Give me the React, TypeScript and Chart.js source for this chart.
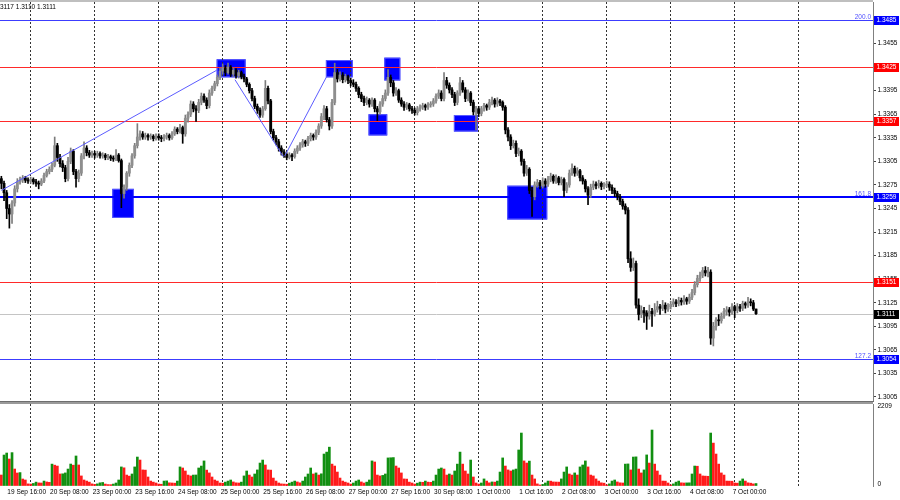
import React, { useEffect, useRef } from 'react';
import { Chart, registerables } from 'chart.js';

Chart.register(...registerables);

// ---------------- DATA (GBPUSD H1, 19 Sep 13:00 .. 7 Oct 08:00) ----------------
const opens = [
  1.3283, 1.3277, 1.3265, 1.3245, 1.3238, 1.3252, 1.3270, 1.3279, 1.3281, 1.3284, 1.3281,
  1.3280, 1.3282, 1.3279, 1.3277, 1.3276, 1.3280, 1.3287, 1.3292, 1.3295, 1.3300, 1.3325, 1.3310, 1.3302, 1.3297, 1.3283, 1.3305, 1.3318, 1.3292, 1.3283, 1.3290, 1.3312, 1.3322, 1.3316, 1.3313,
  1.3315, 1.3313, 1.3315, 1.3312, 1.3313, 1.3310, 1.3311, 1.3309, 1.3308, 1.3313, 1.3306, 1.3264, 1.3272, 1.3290, 1.3300, 1.3312, 1.3325, 1.3336, 1.3340, 1.3336, 1.3338, 1.3336, 1.3337, 1.3334,
  1.3337, 1.3335, 1.3334, 1.3336, 1.3338, 1.3335, 1.3340, 1.3346, 1.3343, 1.3348, 1.3340, 1.3360, 1.3365, 1.3378, 1.3372, 1.3370, 1.3380, 1.3388, 1.3383, 1.3376, 1.3392, 1.3398, 1.3404, 1.3412,
  1.3420, 1.3424, 1.3418, 1.3425, 1.3416, 1.3421, 1.3414, 1.3418, 1.3413, 1.3410, 1.3403, 1.3395, 1.3385, 1.3375, 1.3370, 1.3364, 1.3372, 1.3398, 1.3382, 1.3343, 1.3335, 1.3330, 1.3322, 1.3317,
  1.3314, 1.3310, 1.3313, 1.3311, 1.3318, 1.3322, 1.3326, 1.3330, 1.3328, 1.3334, 1.3338, 1.3336, 1.3342, 1.3350, 1.3362, 1.3372, 1.3358, 1.3350, 1.3380, 1.3418, 1.3410, 1.3415, 1.3409, 1.3413,
  1.3408, 1.3405, 1.3403, 1.3398, 1.3390, 1.3385, 1.3380, 1.3383, 1.3378, 1.3383, 1.3372, 1.3368, 1.3378, 1.3385, 1.3392, 1.3412, 1.3405, 1.3392, 1.3395, 1.3383, 1.3378, 1.3374, 1.3377, 1.3372,
  1.3370, 1.3367, 1.3372, 1.3374, 1.3376, 1.3374, 1.3377, 1.3378, 1.3382, 1.3388, 1.3392, 1.3385, 1.3408, 1.3402, 1.3396, 1.3390, 1.3380, 1.3392, 1.3405, 1.3396, 1.3385, 1.3392, 1.3380, 1.3368,
  1.3372, 1.3366, 1.3372, 1.3376, 1.3374, 1.3380, 1.3383, 1.3378, 1.3382, 1.3380, 1.3374, 1.3345, 1.3336, 1.3325, 1.3328, 1.3315, 1.3318, 1.3305, 1.3290, 1.3295, 1.3268, 1.3260, 1.3275, 1.3278,
  1.3274, 1.3280, 1.3276, 1.3282, 1.3286, 1.3280, 1.3284, 1.3278, 1.3282, 1.3268, 1.3275, 1.3290, 1.3296, 1.3290, 1.3293, 1.3284, 1.3280, 1.3270, 1.3262, 1.3272, 1.3276, 1.3274, 1.3277, 1.3273,
  1.3275, 1.3276, 1.3272, 1.3268, 1.3264, 1.3260, 1.3254, 1.3248, 1.3243, 1.3181, 1.3170, 1.3175, 1.3122, 1.3110, 1.3115, 1.3112, 1.3108, 1.3114, 1.3111, 1.3116, 1.3120, 1.3118, 1.3122, 1.3117,
  1.3120, 1.3123, 1.3126, 1.3124, 1.3128, 1.3126, 1.3130, 1.3127, 1.3132, 1.3138, 1.3148, 1.3156, 1.3160, 1.3166, 1.3163, 1.3164, 1.3080, 1.3095, 1.3103, 1.3102, 1.3108, 1.3114, 1.3116, 1.3113,
  1.3120, 1.3115, 1.3120, 1.3118, 1.3124, 1.3122, 1.3126, 1.3125, 1.3117,
];
const highs = [
  1.3286, 1.3280, 1.3268, 1.3250, 1.3255, 1.3274, 1.3283, 1.3285, 1.3287, 1.3286, 1.3284,
  1.3285, 1.3284, 1.3282, 1.3280, 1.3283, 1.3290, 1.3295, 1.3298, 1.3303, 1.3336, 1.3328, 1.3314, 1.3306, 1.3300, 1.3310, 1.3322, 1.3320, 1.3295, 1.3294, 1.3315, 1.3330, 1.3325, 1.3319, 1.3318,
  1.3318, 1.3318, 1.3317, 1.3316, 1.3315, 1.3314, 1.3313, 1.3312, 1.3320, 1.3315, 1.3308, 1.3275, 1.3292, 1.3303, 1.3315, 1.3328, 1.3353, 1.3344, 1.3343, 1.3341, 1.3340, 1.3340, 1.3339, 1.3340,
  1.3340, 1.3338, 1.3339, 1.3341, 1.3340, 1.3343, 1.3349, 1.3348, 1.3352, 1.3350, 1.3364, 1.3368, 1.3382, 1.3381, 1.3376, 1.3384, 1.3392, 1.3391, 1.3386, 1.3396, 1.3401, 1.3407, 1.3415, 1.3424,
  1.3429, 1.3427, 1.3430, 1.3427, 1.3424, 1.3423, 1.3421, 1.3420, 1.3416, 1.3412, 1.3405, 1.3398, 1.3388, 1.3378, 1.3373, 1.3375, 1.3408, 1.3401, 1.3384, 1.3346, 1.3338, 1.3333, 1.3325, 1.3320,
  1.3316, 1.3316, 1.3315, 1.3321, 1.3325, 1.3329, 1.3333, 1.3332, 1.3337, 1.3341, 1.3340, 1.3345, 1.3353, 1.3366, 1.3376, 1.3375, 1.3361, 1.3384, 1.3430, 1.3422, 1.3419, 1.3418, 1.3416, 1.3415,
  1.3411, 1.3409, 1.3406, 1.3400, 1.3393, 1.3388, 1.3387, 1.3385, 1.3386, 1.3385, 1.3375, 1.3381, 1.3389, 1.3396, 1.3422, 1.3415, 1.3408, 1.3399, 1.3397, 1.3386, 1.3381, 1.3380, 1.3379, 1.3375,
  1.3373, 1.3375, 1.3377, 1.3379, 1.3378, 1.3380, 1.3381, 1.3385, 1.3391, 1.3396, 1.3395, 1.3418, 1.3412, 1.3405, 1.3399, 1.3393, 1.3395, 1.3412, 1.3408, 1.3399, 1.3396, 1.3394, 1.3383, 1.3375,
  1.3375, 1.3375, 1.3379, 1.3378, 1.3384, 1.3387, 1.3385, 1.3386, 1.3384, 1.3382, 1.3376, 1.3348, 1.3339, 1.3332, 1.3331, 1.3322, 1.3320, 1.3308, 1.3300, 1.3297, 1.3272, 1.3279, 1.3282, 1.3281,
  1.3284, 1.3283, 1.3286, 1.3290, 1.3288, 1.3288, 1.3286, 1.3285, 1.3284, 1.3278, 1.3294, 1.3302, 1.3299, 1.3297, 1.3295, 1.3287, 1.3282, 1.3273, 1.3276, 1.3280, 1.3279, 1.3281, 1.3279, 1.3278,
  1.3280, 1.3279, 1.3275, 1.3271, 1.3267, 1.3263, 1.3257, 1.3251, 1.3246, 1.3190, 1.3182, 1.3178, 1.3130, 1.3121, 1.3119, 1.3115, 1.3122, 1.3118, 1.3124, 1.3127, 1.3123, 1.3128, 1.3125, 1.3124,
  1.3127, 1.3130, 1.3129, 1.3132, 1.3131, 1.3134, 1.3132, 1.3136, 1.3142, 1.3152, 1.3160, 1.3164, 1.3170, 1.3171, 1.3170, 1.3167, 1.3100, 1.3106, 1.3110, 1.3112, 1.3118, 1.3120, 1.3119, 1.3124,
  1.3122, 1.3124, 1.3123, 1.3127, 1.3126, 1.3132, 1.3130, 1.3128, 1.3117,
];
const lows = [
  1.3270, 1.3255, 1.3232, 1.3220, 1.3226, 1.3248, 1.3266, 1.3276, 1.3278, 1.3278, 1.3277,
  1.3277, 1.3276, 1.3273, 1.3270, 1.3274, 1.3278, 1.3285, 1.3289, 1.3292, 1.3298, 1.3305, 1.3298, 1.3292, 1.3279, 1.3280, 1.3302, 1.3288, 1.3272, 1.3279, 1.3287, 1.3308, 1.3312, 1.3310, 1.3310,
  1.3309, 1.3310, 1.3309, 1.3309, 1.3307, 1.3307, 1.3306, 1.3305, 1.3306, 1.3304, 1.3246, 1.3258, 1.3268, 1.3286, 1.3297, 1.3309, 1.3322, 1.3332, 1.3333, 1.3333, 1.3332, 1.3333, 1.3331, 1.3332,
  1.3332, 1.3330, 1.3331, 1.3333, 1.3332, 1.3333, 1.3338, 1.3340, 1.3341, 1.3328, 1.3337, 1.3355, 1.3362, 1.3368, 1.3356, 1.3367, 1.3377, 1.3380, 1.3372, 1.3373, 1.3389, 1.3395, 1.3401, 1.3409,
  1.3416, 1.3414, 1.3416, 1.3413, 1.3413, 1.3411, 1.3411, 1.3410, 1.3406, 1.3400, 1.3392, 1.3382, 1.3372, 1.3366, 1.3361, 1.3361, 1.3370, 1.3378, 1.3340, 1.3332, 1.3326, 1.3318, 1.3313, 1.3310,
  1.3307, 1.3308, 1.3306, 1.3309, 1.3315, 1.3319, 1.3323, 1.3324, 1.3325, 1.3331, 1.3332, 1.3333, 1.3339, 1.3347, 1.3358, 1.3355, 1.3345, 1.3347, 1.3377, 1.3406, 1.3407, 1.3405, 1.3406, 1.3404,
  1.3401, 1.3400, 1.3394, 1.3386, 1.3381, 1.3376, 1.3377, 1.3374, 1.3375, 1.3368, 1.3357, 1.3365, 1.3375, 1.3382, 1.3389, 1.3400, 1.3388, 1.3389, 1.3380, 1.3375, 1.3370, 1.3371, 1.3369, 1.3366,
  1.3364, 1.3364, 1.3369, 1.3371, 1.3370, 1.3371, 1.3374, 1.3375, 1.3379, 1.3385, 1.3382, 1.3382, 1.3398, 1.3392, 1.3386, 1.3376, 1.3377, 1.3389, 1.3393, 1.3381, 1.3382, 1.3376, 1.3364, 1.3345,
  1.3362, 1.3363, 1.3369, 1.3370, 1.3371, 1.3377, 1.3374, 1.3375, 1.3376, 1.3370, 1.3340, 1.3331, 1.3320, 1.3322, 1.3311, 1.3312, 1.3300, 1.3286, 1.3287, 1.3264, 1.3235, 1.3256, 1.3272, 1.3270,
  1.3271, 1.3272, 1.3273, 1.3279, 1.3277, 1.3277, 1.3275, 1.3275, 1.3260, 1.3265, 1.3272, 1.3287, 1.3286, 1.3287, 1.3280, 1.3276, 1.3266, 1.3250, 1.3259, 1.3269, 1.3270, 1.3271, 1.3269, 1.3270,
  1.3272, 1.3268, 1.3264, 1.3260, 1.3256, 1.3250, 1.3244, 1.3238, 1.3176, 1.3165, 1.3166, 1.3118, 1.3103, 1.3106, 1.3100, 1.3091, 1.3104, 1.3095, 1.3108, 1.3113, 1.3110, 1.3115, 1.3112, 1.3114,
  1.3117, 1.3120, 1.3120, 1.3121, 1.3122, 1.3123, 1.3123, 1.3124, 1.3129, 1.3135, 1.3145, 1.3152, 1.3157, 1.3159, 1.3158, 1.3072, 1.3070, 1.3090, 1.3096, 1.3099, 1.3105, 1.3109, 1.3108, 1.3110,
  1.3106, 1.3112, 1.3114, 1.3115, 1.3118, 1.3119, 1.3121, 1.3115, 1.3110,
];
const closes = [
  1.3277, 1.3265, 1.3245, 1.3238, 1.3252, 1.3270, 1.3279, 1.3281, 1.3284, 1.3281, 1.3280,
  1.3282, 1.3279, 1.3277, 1.3276, 1.3280, 1.3287, 1.3292, 1.3295, 1.3300, 1.3325, 1.3310, 1.3302, 1.3297, 1.3283, 1.3305, 1.3318, 1.3292, 1.3283, 1.3290, 1.3312, 1.3322, 1.3316, 1.3313, 1.3315,
  1.3313, 1.3315, 1.3312, 1.3313, 1.3310, 1.3311, 1.3309, 1.3308, 1.3313, 1.3306, 1.3264, 1.3272, 1.3290, 1.3300, 1.3312, 1.3325, 1.3336, 1.3340, 1.3336, 1.3338, 1.3336, 1.3337, 1.3334, 1.3337,
  1.3335, 1.3334, 1.3336, 1.3338, 1.3335, 1.3340, 1.3346, 1.3343, 1.3348, 1.3340, 1.3360, 1.3365, 1.3378, 1.3372, 1.3370, 1.3380, 1.3388, 1.3383, 1.3376, 1.3392, 1.3398, 1.3404, 1.3412, 1.3420,
  1.3424, 1.3418, 1.3425, 1.3416, 1.3421, 1.3414, 1.3418, 1.3413, 1.3410, 1.3403, 1.3395, 1.3385, 1.3375, 1.3370, 1.3364, 1.3372, 1.3398, 1.3382, 1.3343, 1.3335, 1.3330, 1.3322, 1.3317, 1.3314,
  1.3310, 1.3313, 1.3311, 1.3318, 1.3322, 1.3326, 1.3330, 1.3328, 1.3334, 1.3338, 1.3336, 1.3342, 1.3350, 1.3362, 1.3372, 1.3358, 1.3350, 1.3380, 1.3418, 1.3410, 1.3415, 1.3409, 1.3413, 1.3408,
  1.3405, 1.3403, 1.3398, 1.3390, 1.3385, 1.3380, 1.3383, 1.3378, 1.3383, 1.3372, 1.3368, 1.3378, 1.3385, 1.3392, 1.3412, 1.3405, 1.3392, 1.3395, 1.3383, 1.3378, 1.3374, 1.3377, 1.3372, 1.3370,
  1.3367, 1.3372, 1.3374, 1.3376, 1.3374, 1.3377, 1.3378, 1.3382, 1.3388, 1.3392, 1.3385, 1.3408, 1.3402, 1.3396, 1.3390, 1.3380, 1.3392, 1.3405, 1.3396, 1.3385, 1.3392, 1.3380, 1.3368, 1.3372,
  1.3366, 1.3372, 1.3376, 1.3374, 1.3380, 1.3383, 1.3378, 1.3382, 1.3380, 1.3374, 1.3345, 1.3336, 1.3325, 1.3328, 1.3315, 1.3318, 1.3305, 1.3290, 1.3295, 1.3268, 1.3260, 1.3275, 1.3278, 1.3274,
  1.3280, 1.3276, 1.3282, 1.3286, 1.3280, 1.3284, 1.3278, 1.3282, 1.3268, 1.3275, 1.3290, 1.3296, 1.3290, 1.3293, 1.3284, 1.3280, 1.3270, 1.3262, 1.3272, 1.3276, 1.3274, 1.3277, 1.3273, 1.3275,
  1.3276, 1.3272, 1.3268, 1.3264, 1.3260, 1.3254, 1.3248, 1.3243, 1.3181, 1.3170, 1.3175, 1.3122, 1.3110, 1.3115, 1.3112, 1.3108, 1.3114, 1.3111, 1.3116, 1.3120, 1.3118, 1.3122, 1.3117, 1.3120,
  1.3123, 1.3126, 1.3124, 1.3128, 1.3126, 1.3130, 1.3127, 1.3132, 1.3138, 1.3148, 1.3156, 1.3160, 1.3166, 1.3163, 1.3164, 1.3080, 1.3095, 1.3103, 1.3102, 1.3108, 1.3114, 1.3116, 1.3113, 1.3120,
  1.3115, 1.3120, 1.3118, 1.3124, 1.3122, 1.3126, 1.3125, 1.3117, 1.3111,
];
const volumes = [
  311, 877, 934, 764, 945, 481, 368, 380, 198, 170, 60,
  55, 72, 110, 88, 85, 140, 115, 105, 620, 590, 565, 340, 345, 370, 480, 622, 590, 850, 595, 285, 170, 140, 110, 60,
  45, 60, 90, 100, 55, 40, 38, 55, 85, 170, 540, 515, 310, 280, 340, 540, 820, 735, 455, 450, 255, 140, 110, 85,
  55, 50, 140, 145, 90, 85, 80, 140, 540, 510, 425, 310, 285, 310, 312, 510, 565, 710, 450, 370, 255, 170, 140, 85,
  80, 110, 140, 170, 115, 90, 85, 110, 285, 425, 310, 255, 340, 455, 650, 735, 595, 455, 450, 225, 140, 85, 60, 55,
  50, 80, 110, 140, 115, 90, 140, 255, 340, 510, 340, 370, 310, 345, 905, 960, 1100, 620, 565, 395, 225, 140, 110, 85,
  55, 85, 140, 170, 115, 85, 110, 170, 710, 680, 310, 285, 300, 340, 795, 800, 805, 565, 510, 370, 200, 195, 110, 85,
  55, 80, 110, 105, 140, 110, 105, 140, 310, 480, 510, 480, 310, 340, 310, 425, 620, 960, 620, 425, 340, 735, 255, 85,
  55, 85, 200, 140, 90, 115, 110, 140, 395, 795, 565, 455, 425, 455, 480, 1020, 1500, 710, 650, 705, 310, 200, 60, 30,
  42, 85, 140, 138, 115, 112, 110, 200, 395, 540, 340, 310, 370, 310, 540, 595, 710, 540, 310, 285, 200, 140, 90, 80,
  30, 60, 140, 170, 115, 90, 85, 620, 625, 455, 820, 825, 480, 370, 455, 880, 650, 1585, 620, 425, 310, 140, 138, 85,
  30, 60, 110, 140, 90, 85, 88, 90, 340, 565, 560, 340, 285, 280, 275, 1500, 1215, 905, 620, 370, 310, 140, 138, 135,
  85, 80, 140, 200, 140, 90, 80, 60, 70,
];

// bar numbers (0 = 19 Sep 13:00) of the time labels and of the midnight grid lines
const timeLabels = [
  '19 Sep 16:00', '20 Sep 08:00', '23 Sep 00:00', '23 Sep 16:00', '24 Sep 08:00', '25 Sep 00:00',
  '25 Sep 16:00', '26 Sep 08:00', '27 Sep 00:00', '27 Sep 16:00', '30 Sep 08:00', '1 Oct 00:00',
  '1 Oct 16:00', '2 Oct 08:00', '3 Oct 00:00', '3 Oct 16:00', '4 Oct 08:00', '7 Oct 00:00',
];
const timeLabelBars = [3, 19, 35, 51, 67, 83, 99, 115, 131, 147, 163, 179, 195, 211, 227, 243, 259, 275];
const gridBars = [11, 35, 59, 83, 107, 131, 155, 179, 203, 227, 251, 275, 299];

const priceTicks = [
  1.3005, 1.3035, 1.3065, 1.3095, 1.3125, 1.3155, 1.3185, 1.3215, 1.3245,
  1.3275, 1.3305, 1.3335, 1.3365, 1.3395, 1.3425, 1.3455, 1.3485,
];
const volumeTicks = [0, 2209];

// horizontal levels
const levelPrices = [1.3485, 1.3425, 1.3357, 1.3259, 1.3151, 1.3111, 1.3054];
const levelKinds = ['fibo', 'resistance', 'resistance', 'fiboMain', 'resistance', 'bid', 'fibo'];
const levelTexts = ['200.0', '', '', '161.8', '', '', '127.2'];

// blue zones (bar numbers, prices)
const zoneStartBars = [41.6, 80.75, 121.7, 143.6, 137.7, 169.7, 189.7];
const zoneEndBars = [49.7, 91.6, 131.75, 149.6, 144.7, 178.7, 204.7];
const zoneTopPrices = [1.3270, 1.3435, 1.3434, 1.3437, 1.3365, 1.3364, 1.3274];
const zoneBottomPrices = [1.3233, 1.3412, 1.3412, 1.3408, 1.3338, 1.3343, 1.3231];

// zig-zag trend lines
const trendStartBars = [0, 87.6, 106.3];
const trendEndBars = [80.75, 105.7, 122.0];
const trendStartPrices = [1.3268, 1.3409, 1.3312];
const trendEndPrices = [1.3421, 1.3311, 1.3413];

const headerPrefix = 'GBPUSD,H1  1.3117 1.';
const headerRest = '3117 1.3110 1.3111';

// ---------------- LAYOUT / STYLE ----------------
const FONT = "'Liberation Sans', Arial, sans-serif";
const FONT_SIZE = 6.5;
const PX_PER_BAR = 64 / 24;
const PLOT_WIDTH = 873;
const X_MIN = -0.51;
const X_MAX = X_MIN + PLOT_WIDTH / PX_PER_BAR;
const PRICE_MIN = 1.29999;
const PRICE_MAX = 1.35079;
const VOL_MAX = 2322;

const UP_BODY = '#8e8e8e';
const UP_WICK = '#7c7c7c';
const DOWN = '#000000';
const VOL_UP = '#118f11';
const VOL_DOWN = '#ff1a1a';

export default function App() {
  const priceRef = useRef<HTMLCanvasElement | null>(null);
  const volRef = useRef<HTMLCanvasElement | null>(null);

  useEffect(() => {
    Chart.defaults.font.family = FONT;
    Chart.defaults.font.size = FONT_SIZE;
    Chart.defaults.color = '#000';

    const n = Math.min(opens.length, highs.length, lows.length, closes.length);
    const idx = Array.from({ length: n }, (_, i) => i);
    const isUp = idx.map((i) => closes[i] >= opens[i]);
    const wickData = idx.map((i) => ({ x: i, y: [lows[i], highs[i]] }));
    const bodyData = idx.map((i) => ({ x: i, y: [opens[i], closes[i]] }));

    const trendSets = trendStartBars.map((b, k) => ({
      type: 'line',
      data: [
        { x: b, y: trendStartPrices[k] },
        { x: trendEndBars[k], y: trendEndPrices[k] },
      ],
      borderColor: '#5c5cff',
      borderWidth: 1,
      pointRadius: 0,
      order: 0,
    }));

    const levelStyle = (kind: string) => {
      if (kind === 'fiboMain') return { line: '#0000ff', width: 2, tag: '#0000ff' };
      if (kind === 'fibo') return { line: '#3c3cff', width: 1, tag: '#0000ff' };
      if (kind === 'resistance') return { line: '#ff2a2a', width: 1, tag: '#ff0000' };
      return { line: '#c4c4c4', width: 1, tag: '#000000' };
    };

    const pricePlugin = {
      id: 'mt4price',
      beforeDraw(chart: any) {
        const { ctx, chartArea } = chart;
        const xs = chart.scales.x;
        const ys = chart.scales.y;
        ctx.save();
        ctx.fillStyle = '#ffffff';
        ctx.fillRect(0, 0, chart.width, chart.height);
        ctx.beginPath();
        ctx.rect(chartArea.left, chartArea.top, chartArea.right - chartArea.left, chartArea.bottom - chartArea.top);
        ctx.clip();
        for (let k = 0; k < zoneStartBars.length; k++) {
          const x1 = xs.getPixelForValue(zoneStartBars[k]);
          const x2 = xs.getPixelForValue(zoneEndBars[k]);
          const y1 = ys.getPixelForValue(zoneTopPrices[k]);
          const y2 = ys.getPixelForValue(zoneBottomPrices[k]);
          ctx.fillStyle = '#0000ff';
          ctx.fillRect(x1, y1, x2 - x1, y2 - y1);
          ctx.strokeStyle = '#5a5aff';
          ctx.lineWidth = 1;
          ctx.strokeRect(x1 + 0.5, y1 + 0.5, x2 - x1 - 1, y2 - y1 - 1);
        }
        ctx.restore();
      },
      beforeDatasetsDraw(chart: any) {
        const { ctx, chartArea } = chart;
        const ys = chart.scales.y;
        ctx.save();
        for (let k = 0; k < levelPrices.length; k++) {
          const st = levelStyle(levelKinds[k]);
          const py = ys.getPixelForValue(levelPrices[k]);
          const yy = st.width === 1 ? Math.round(py) + 0.5 : Math.round(py);
          ctx.strokeStyle = st.line;
          ctx.lineWidth = st.width;
          ctx.beginPath();
          ctx.moveTo(chartArea.left, yy);
          ctx.lineTo(chartArea.right, yy);
          ctx.stroke();
          if (levelTexts[k]) {
            ctx.font = `${FONT_SIZE}px ${FONT}`;
            ctx.fillStyle = '#5050ff';
            ctx.textAlign = 'right';
            ctx.textBaseline = 'alphabetic';
            ctx.fillText(levelTexts[k], chartArea.right - 2, Math.round(py) - 1.5);
          }
        }
        ctx.restore();
      },
      afterDraw(chart: any) {
        const { ctx, chartArea } = chart;
        const ys = chart.scales.y;
        ctx.save();
        ctx.fillStyle = '#808080';
        ctx.fillRect(0, 0.5, chartArea.right, 1);
        ctx.fillStyle = '#6e6e6e';
        ctx.fillRect(0, chartArea.bottom, chartArea.right + 1, 1);
        ctx.font = `${FONT_SIZE}px ${FONT}`;
        ctx.fillStyle = '#000';
        ctx.textAlign = 'left';
        ctx.textBaseline = 'middle';
        const w = ctx.measureText(headerPrefix).width;
        ctx.fillText(headerPrefix + headerRest, -w, 7);
        for (let k = 0; k < levelPrices.length; k++) {
          const st = levelStyle(levelKinds[k]);
          const py = Math.round(ys.getPixelForValue(levelPrices[k]));
          ctx.fillStyle = st.tag;
          ctx.fillRect(chartArea.right + 1, py - 4, 25, 9);
          ctx.fillStyle = '#ffffff';
          ctx.textBaseline = 'middle';
          ctx.fillText(levelPrices[k].toFixed(4), chartArea.right + 3.5, py + 0.5);
        }
        ctx.restore();
      },
    };

    const priceChart = new Chart(priceRef.current as HTMLCanvasElement, {
      type: 'bar',
      data: {
        datasets: [
          ...(trendSets as any[]),
          {
            type: 'bar',
            data: bodyData as any,
            backgroundColor: idx.map((i) => (isUp[i] ? UP_BODY : DOWN)),
            barThickness: 2.2,
            minBarLength: 1,
            grouped: false,
            order: 1,
          },
          {
            type: 'bar',
            data: wickData as any,
            backgroundColor: idx.map((i) => (isUp[i] ? UP_WICK : DOWN)),
            barThickness: 1,
            grouped: false,
            order: 2,
          },
        ],
      } as any,
      options: {
        responsive: false,
        animation: false,
        events: [],
        layout: { autoPadding: false, padding: { top: 2, bottom: 1, left: 0, right: 0 } },
        plugins: { legend: { display: false }, tooltip: { enabled: false }, title: { display: false } },
        scales: {
          x: {
            type: 'linear',
            min: X_MIN,
            max: X_MAX,
            offset: false,
            grid: { offset: false, color: '#333333', lineWidth: 1, drawTicks: false },
            border: { display: false, dash: [2, 2] },
            ticks: { display: false },
            afterBuildTicks: (s: any) => {
              s.ticks = gridBars.map((v) => ({ value: v }));
            },
            afterFit: (s: any) => {
              s.height = 0;
              s.paddingLeft = 0;
              s.paddingRight = 0;
            },
          },
          y: {
            position: 'right',
            min: PRICE_MIN,
            max: PRICE_MAX,
            afterBuildTicks: (s: any) => {
              s.ticks = priceTicks.map((v) => ({ value: v }));
            },
            afterFit: (s: any) => {
              s.width = 27;
              s.paddingTop = 0;
              s.paddingBottom = 0;
            },
            ticks: {
              padding: 1.5,
              color: '#000',
              callback: (v: any) => Number(v).toFixed(4),
            },
            grid: { drawOnChartArea: false, drawTicks: true, tickLength: 3, tickColor: '#444' },
            border: { display: true, color: '#808080', width: 1 },
          },
        },
      } as any,
      plugins: [pricePlugin],
    });

    const volColors = volumes.map((v, i) => (i > 0 && v > volumes[i - 1] ? VOL_UP : VOL_DOWN));
    const volPlugin = {
      id: 'mt4vol',
      afterDraw(chart: any) {
        const { ctx, chartArea } = chart;
        ctx.save();
        ctx.fillStyle = '#9a9a9a';
        ctx.fillRect(0, 0, chartArea.right, 2);
        ctx.restore();
      },
    };

    const volChart = new Chart(volRef.current as HTMLCanvasElement, {
      type: 'bar',
      data: {
        datasets: [
          {
            data: volumes.map((v, i) => ({ x: i, y: v })) as any,
            backgroundColor: volColors,
            barThickness: 2,
            xAxisID: 'x',
          },
        ],
      },
      options: {
        responsive: false,
        animation: false,
        events: [],
        layout: { autoPadding: false, padding: { top: 2, bottom: 0, left: 0, right: 0 } },
        plugins: { legend: { display: false }, tooltip: { enabled: false } },
        scales: {
          x: {
            type: 'linear',
            position: 'bottom',
            min: X_MIN,
            max: X_MAX,
            offset: false,
            grid: { display: false, offset: false, drawTicks: false },
            border: { display: false },
            afterBuildTicks: (s: any) => {
              s.ticks = timeLabelBars.map((b) => ({ value: b - 0.75 }));
            },
            ticks: {
              autoSkip: false,
              maxRotation: 0,
              minRotation: 0,
              align: 'start',
              padding: 2.2,
              color: '#000',
              callback: (_v: any, i: number) => timeLabels[i],
            },
            afterFit: (s: any) => {
              s.height = 14;
              s.paddingLeft = 0;
              s.paddingRight = 0;
            },
          },
          xg: {
            type: 'linear',
            position: 'bottom',
            min: X_MIN,
            max: X_MAX,
            offset: false,
            grid: { offset: false, color: '#333333', lineWidth: 1, drawTicks: false },
            border: { display: false, dash: [2, 2] },
            ticks: { display: false },
            afterBuildTicks: (s: any) => {
              s.ticks = gridBars.map((v) => ({ value: v }));
            },
            afterFit: (s: any) => {
              s.height = 0;
              s.paddingLeft = 0;
              s.paddingRight = 0;
            },
          },
          y: {
            position: 'right',
            min: 0,
            max: VOL_MAX,
            afterBuildTicks: (s: any) => {
              s.ticks = volumeTicks.map((v) => ({ value: v }));
            },
            afterFit: (s: any) => {
              s.width = 27;
              s.paddingTop = 0;
              s.paddingBottom = 0;
            },
            ticks: {
              padding: 1.5,
              labelOffset: -1.5,
              color: '#000',
              callback: (v: any) => String(v),
            },
            grid: { drawOnChartArea: false, drawTicks: true, tickLength: 3, tickColor: '#ffffff' },
            border: { display: true, color: '#808080', width: 1 },
          },
        },
      } as any,
      plugins: [volPlugin],
    });

    return () => {
      priceChart.destroy();
      volChart.destroy();
    };
  }, []);

  return (
    <div style={{ position: 'fixed', left: 0, top: 0, width: 900, height: 500, background: '#ffffff', overflow: 'hidden' }}>
      <canvas ref={priceRef} width={900} height={402} style={{ position: 'absolute', left: 0, top: 0, width: 900, height: 402 }} />
      <canvas ref={volRef} width={900} height={98} style={{ position: 'absolute', left: 0, top: 402, width: 900, height: 98 }} />
    </div>
  );
}
